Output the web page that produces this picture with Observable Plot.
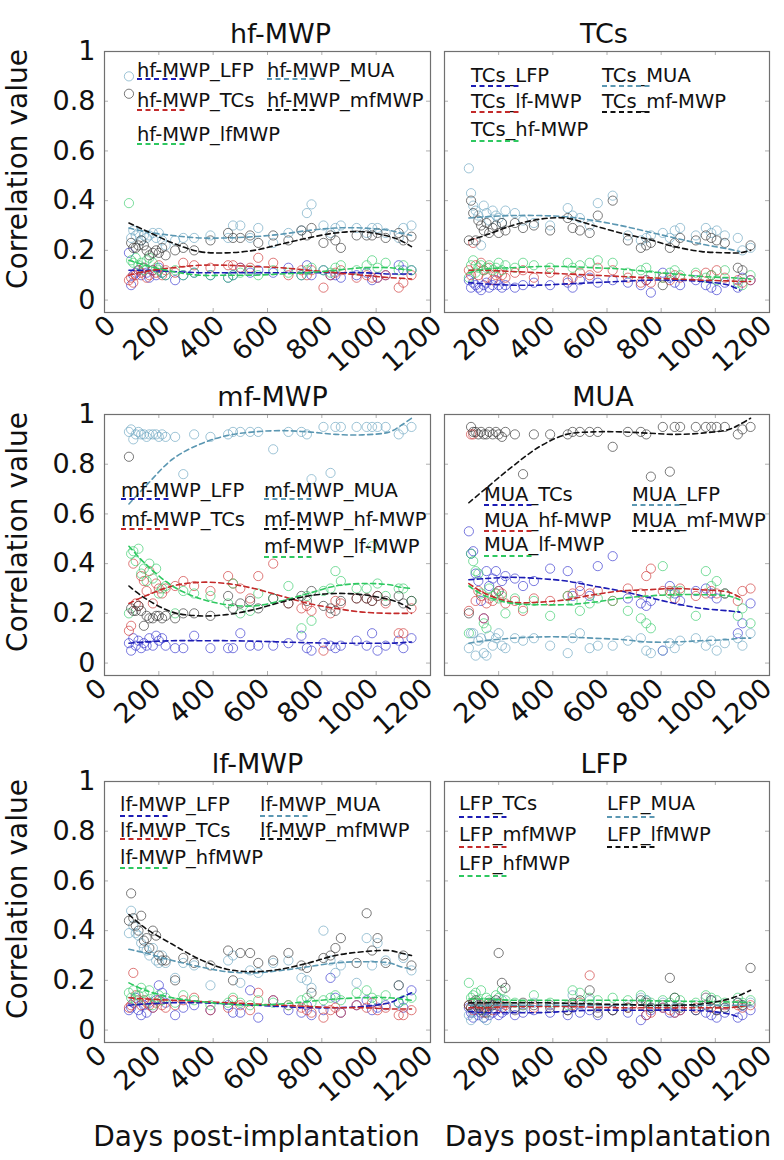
<!DOCTYPE html>
<html><head><meta charset="utf-8">
<script src="https://cdn.jsdelivr.net/npm/d3@7"></script>
<script src="https://cdn.jsdelivr.net/npm/@observablehq/plot@0.6"></script>
<style>
body{margin:0;background:#fff;}
#wrap{position:relative;width:784px;height:1160px;font-family:"DejaVu Sans",Verdana,sans-serif;overflow:hidden;}
#wrap svg{position:absolute;}
</style></head><body><div id="wrap"></div>
<script>
// ---------- data ----------
const days = [90,98,106,115,125,135,145,155,165,178,190,200,212,225,260,290,330,390,455,473,500,536,566,621,677,725,745,762,806,832,850,870,928,965,985,1005,1035,1083,1100,1130];
const fitDays = [90,150,250,350,450,550,650,750,850,950,1050,1090,1130];
const xTicks = [0,200,400,600,800,1000,1200];
const xTicksRight = [200,400,600,800,1000,1200];
const yTicks = [0,0.2,0.4,0.6,0.8,1];
const titles = ["hf-MWP","TCs","mf-MWP","MUA","lf-MWP","LFP"];
const yLabel = "Correlation value";
const xLabel = "Days post-implantation";

// legend labels, in colour order: blue, red, green, steel blue, black
const leg_hf  = ["hf-MWP_LFP","hf-MWP_TCs","hf-MWP_lfMWP","hf-MWP_MUA","hf-MWP_mfMWP"];
const leg_tc  = ["TCs_LFP","TCs_lf-MWP","TCs_hf-MWP","TCs_MUA","TCs_mf-MWP"];
const leg_mf  = ["mf-MWP_LFP","mf-MWP_TCs","mf-MWP_lf-MWP","mf-MWP_MUA","mf-MWP_hf-MWP"];
const leg_mua = ["MUA_TCs","MUA_hf-MWP","MUA_lf-MWP","MUA_LFP","MUA_mf-MWP"];
const leg_lf  = ["lf-MWP_LFP","lf-MWP_TCs","lf-MWP_hfMWP","lf-MWP_MUA","lf-MWP_mfMWP"];
const leg_lfp = ["LFP_TCs","LFP_mfMWP","LFP_hfMWP","LFP_MUA","LFP_lfMWP"];

// panel 1: hf-MWP
const hf_LFP = [0.19,0.06,0.10,0.11,0.12,0.10,0.13,0.11,0.09,0.12, 0.10,0.13,0.11,0.10,0.08,0.10,0.11,0.10,0.09,0.10, 0.13,0.11,0.12,0.11,0.13,0.10,0.14,0.10,0.12,0.10, 0.10,0.09,0.10,0.11,0.08,0.09,0.10,0.14,0.12,0.12];
const hf_TCs = [0.08,0.09,0.07,0.10,0.12,0.11,0.13,0.09,0.10,0.12, 0.11,0.14,0.10,0.12,0.11,0.15,0.14,0.13,0.14,0.14, 0.13,0.13,0.17,0.15,0.10,0.12,0.10,0.12,0.05,0.10, 0.11,0.12,0.09,0.10,0.09,0.09,0.10,0.05,0.07,0.10];
const hf_lf  = [0.39,0.16,0.15,0.17,0.14,0.15,0.12,0.16,0.17,0.15, 0.13,0.12,0.11,0.10,0.12,0.10,0.11,0.10,0.09,0.10, 0.11,0.12,0.10,0.12,0.11,0.10,0.12,0.13,0.12,0.11, 0.13,0.14,0.12,0.14,0.16,0.13,0.15,0.12,0.14,0.12];
const hf_MUA = [0.90,0.25,0.28,0.26,0.27,0.24,0.26,0.25,0.26,0.27, 0.25,0.27,0.24,0.22,0.24,0.25,0.25,0.26,0.25,0.30, 0.30,0.25,0.29,0.23,0.27,0.28,0.35,0.385,0.30,0.27, 0.29,0.30,0.29,0.27,0.29,0.29,0.27,0.25,0.29,0.30];
const hf_mf  = [0.83,0.23,0.21,0.21,0.22,0.24,0.22,0.20,0.18,0.19, 0.20,0.19,0.21,0.18,0.20,0.21,0.20,0.24,0.27,0.25, 0.25,0.26,0.23,0.26,0.24,0.28,0.26,0.29,0.23,0.26, 0.24,0.21,0.26,0.26,0.26,0.27,0.25,0.27,0.24,0.255];
// panel 2: TCs
const tc_LFP = [0.08,0.05,0.07,0.06,0.05,0.04,0.06,0.07,0.05,0.06, 0.08,0.06,0.05,0.06,0.05,0.06,0.07,0.06,0.07,0.05, 0.08,0.09,0.07,0.08,0.07,0.06,0.08,0.03,0.11,0.09, 0.07,0.06,0.08,0.06,0.05,0.04,0.07,0.05,0.09,0.08];
const tc_lf  = [0.12,0.10,0.23,0.14,0.10,0.15,0.12,0.09,0.13,0.08, 0.10,0.11,0.10,0.09,0.11,0.12,0.09,0.11,0.08,0.09, 0.11,0.10,0.13,0.12,0.09,0.07,0.08,0.07,0.09,0.08, 0.10,0.09,0.10,0.11,0.10,0.12,0.09,0.08,0.07,0.08];
const tc_hf  = [0.09,0.14,0.16,0.11,0.13,0.14,0.12,0.13,0.14,0.12, 0.13,0.15,0.12,0.14,0.13,0.15,0.14,0.13,0.15,0.13, 0.14,0.15,0.16,0.15,0.11,0.12,0.13,0.10,0.09,0.11, 0.12,0.10,0.11,0.09,0.10,0.08,0.12,0.07,0.06,0.10];
const tc_MUA = [0.53,0.43,0.38,0.36,0.34,0.22,0.38,0.35,0.32,0.36, 0.34,0.33,0.31,0.36,0.35,0.32,0.31,0.30,0.37,0.34, 0.33,0.30,0.39,0.42,0.26,0.24,0.25,0.26,0.27,0.25, 0.28,0.29,0.26,0.29,0.27,0.28,0.26,0.25,0.20,0.21];
const tc_mf  = [0.24,0.40,0.35,0.24,0.32,0.30,0.28,0.31,0.27,0.29, 0.30,0.27,0.31,0.28,0.31,0.29,0.30,0.28,0.33,0.29, 0.28,0.27,0.34,0.40,0.24,0.21,0.22,0.23,0.06,0.21, 0.23,0.25,0.24,0.26,0.25,0.24,0.23,0.13,0.12,0.22];
// panel 3: mf-MWP
const mf_LFP = [0.08,0.05,0.10,0.07,0.09,0.06,0.08,0.07,0.10,0.07, 0.11,0.09,0.10,0.07,0.06,0.06,0.11,0.06,0.06,0.06, 0.12,0.07,0.07,0.07,0.08,0.11,0.06,0.05,0.08,0.07, 0.06,0.07,0.09,0.07,0.12,0.05,0.07,0.09,0.06,0.10];
const mf_TCs = [0.13,0.15,0.40,0.24,0.23,0.35,0.33,0.29,0.37,0.24, 0.32,0.30,0.28,0.30,0.31,0.33,0.31,0.29,0.35,0.32, 0.30,0.26,0.35,0.40,0.24,0.22,0.23,0.21,0.05,0.20, 0.25,0.24,0.26,0.26,0.25,0.27,0.24,0.12,0.12,0.22];
const mf_lf  = [0.20,0.44,0.45,0.41,0.46,0.36,0.38,0.33,0.40,0.34, 0.38,0.28,0.30,0.31,0.20,0.29,0.28,0.27,0.24,0.32, 0.20,0.21,0.28,0.26,0.31,0.14,0.27,0.17,0.29,0.30, 0.37,0.33,0.30,0.30,0.47,0.32,0.27,0.30,0.30,0.25];
const mf_MUA = [0.93,0.94,0.90,0.92,0.93,0.92,0.92,0.91,0.92,0.92, 0.92,0.91,0.92,0.91,0.91,0.76,0.92,0.91,0.92,0.93, 0.93,0.93,0.93,0.86,0.93,0.93,0.92,0.74,0.95,0.765, 0.95,0.95,0.95,0.95,0.95,0.95,0.95,0.92,0.94,0.95];
const mf_hf  = [0.83,0.22,0.21,0.21,0.23,0.21,0.15,0.19,0.18,0.18, 0.19,0.19,0.18,0.19,0.18,0.20,0.20,0.19,0.27,0.22, 0.24,0.25,0.22,0.26,0.24,0.27,0.25,0.29,0.23,0.22, 0.21,0.25,0.26,0.26,0.25,0.27,0.25,0.27,0.24,0.25];
// panel 4: MUA
const mua_TCs = [0.53,0.44,0.45,0.36,0.33,0.25,0.18,0.37,0.31,0.34, 0.37,0.29,0.33,0.35,0.34,0.31,0.33,0.38,0.37,0.27, 0.31,0.27,0.39,0.43,0.26,0.24,0.23,0.25,0.05,0.31, 0.28,0.25,0.29,0.30,0.28,0.26,0.28,0.12,0.16,0.24];
const mua_hf  = [0.21,0.92,0.92,0.25,0.29,0.27,0.18,0.24,0.26,0.25, 0.28,0.29,0.28,0.24,0.25,0.21,0.26,0.25,0.27,0.28, 0.29,0.28,0.29,0.25,0.30,0.28,0.35,0.38,0.29,0.29, 0.26,0.30,0.27,0.28,0.29,0.28,0.28,0.25,0.29,0.30];
const mua_lf  = [0.12,0.44,0.41,0.37,0.36,0.28,0.16,0.14,0.30,0.27, 0.28,0.26,0.27,0.20,0.26,0.22,0.25,0.19,0.27,0.25, 0.21,0.24,0.26,0.25,0.21,0.18,0.16,0.14,0.39,0.28, 0.29,0.29,0.19,0.37,0.31,0.33,0.28,0.19,0.22,0.16];
const mua_LFP = [0.06,0.12,0.12,0.03,0.09,0.10,0.04,0.03,0.11,0.07, 0.10,0.12,0.07,0.06,0.10,0.09,0.10,0.07,0.04,0.10, 0.12,0.06,0.07,0.07,0.09,0.10,0.05,0.04,0.05,0.08, 0.06,0.09,0.10,0.07,0.09,0.05,0.08,0.10,0.07,0.12];
const mua_mf  = [0.20,0.95,0.93,0.93,0.92,0.93,0.92,0.92,0.93,0.92, 0.93,0.92,0.91,0.93,0.92,0.76,0.92,0.92,0.92,0.93, 0.93,0.93,0.93,0.87,0.93,0.93,0.92,0.75,0.95,0.77, 0.95,0.95,0.95,0.95,0.95,0.95,0.95,0.92,0.94,0.95];
// panel 5: lf-MWP
const lf_LFP = [0.08,0.09,0.11,0.13,0.08,0.06,0.10,0.07,0.11,0.09, 0.12,0.18,0.15,0.11,0.06,0.09,0.10,0.08,0.10,0.07, 0.07,0.16,0.05,0.12,0.08,0.07,0.10,0.06,0.08,0.21, 0.13,0.07,0.10,0.12,0.08,0.09,0.10,0.11,0.09,0.16];
const lf_TCs = [0.09,0.10,0.23,0.14,0.12,0.10,0.12,0.11,0.10,0.09, 0.11,0.12,0.10,0.09,0.10,0.12,0.13,0.08,0.09,0.12, 0.10,0.08,0.15,0.12,0.10,0.09,0.08,0.07,0.05,0.08, 0.09,0.07,0.10,0.09,0.11,0.08,0.09,0.06,0.06,0.08];
const lf_hf  = [0.15,0.13,0.16,0.12,0.14,0.17,0.15,0.12,0.16,0.10, 0.13,0.14,0.12,0.13,0.11,0.14,0.12,0.10,0.11,0.13, 0.11,0.10,0.12,0.11,0.10,0.12,0.13,0.11,0.12,0.13, 0.14,0.12,0.15,0.16,0.13,0.12,0.14,0.11,0.12,0.13];
const lf_MUA = [0.39,0.48,0.42,0.39,0.38,0.35,0.33,0.32,0.30,0.33, 0.28,0.27,0.30,0.27,0.21,0.27,0.26,0.18,0.28,0.30, 0.19,0.24,0.23,0.27,0.28,0.21,0.20,0.17,0.40,0.28, 0.23,0.26,0.19,0.37,0.26,0.35,0.28,0.18,0.29,0.24];
const lf_mf  = [0.44,0.55,0.45,0.42,0.40,0.46,0.36,0.37,0.33,0.40, 0.38,0.30,0.28,0.28,0.20,0.29,0.27,0.26,0.32,0.20, 0.31,0.31,0.27,0.28,0.31,0.26,0.25,0.15,0.29,0.30, 0.33,0.37,0.27,0.47,0.32,0.37,0.27,0.18,0.30,0.26];
// panel 6: LFP
const lfp_TCs = [0.09,0.07,0.05,0.08,0.06,0.07,0.05,0.08,0.06,0.07, 0.08,0.06,0.07,0.08,0.06,0.07,0.08,0.07,0.06,0.09, 0.07,0.08,0.06,0.08,0.07,0.04,0.06,0.08,0.09,0.07, 0.07,0.08,0.08,0.07,0.06,0.05,0.07,0.05,0.06,0.08];
const lfp_mf  = [0.10,0.09,0.08,0.11,0.09,0.10,0.07,0.09,0.10,0.08, 0.10,0.11,0.09,0.10,0.08,0.10,0.09,0.10,0.08,0.10, 0.11,0.22,0.09,0.08,0.09,0.10,0.06,0.07,0.09,0.08, 0.07,0.08,0.09,0.13,0.09,0.08,0.10,0.10,0.09,0.10];
const lfp_hf  = [0.19,0.13,0.14,0.15,0.12,0.16,0.11,0.13,0.12,0.11, 0.14,0.13,0.16,0.12,0.11,0.10,0.14,0.11,0.10,0.16, 0.15,0.13,0.12,0.13,0.12,0.14,0.12,0.11,0.12,0.11, 0.13,0.12,0.11,0.14,0.13,0.12,0.11,0.13,0.11,0.12];
const lfp_MUA = [0.06,0.04,0.07,0.09,0.10,0.08,0.05,0.04,0.09,0.10, 0.11,0.10,0.12,0.09,0.08,0.09,0.11,0.10,0.08,0.14, 0.10,0.12,0.09,0.08,0.10,0.13,0.12,0.09,0.11,0.10, 0.09,0.10,0.10,0.13,0.12,0.08,0.09,0.11,0.10,0.11];
const lfp_lf  = [0.10,0.09,0.11,0.12,0.10,0.08,0.09,0.07,0.11,0.10, 0.12,0.31,0.19,0.17,0.09,0.11,0.10,0.09,0.08,0.11, 0.12,0.16,0.07,0.08,0.09,0.12,0.11,0.09,0.10,0.21, 0.13,0.09,0.08,0.10,0.12,0.08,0.09,0.11,0.10,0.25];

// fitted curves, read at fitDays
const f_hf_LFP = [0.12,0.12,0.115,0.11,0.11,0.11,0.11,0.11,0.11,0.11,0.105,0.105,0.105];
const f_hf_TCs = [0.10,0.115,0.13,0.14,0.14,0.135,0.13,0.12,0.11,0.10,0.09,0.088,0.085];
const f_hf_lf  = [0.16,0.14,0.115,0.10,0.10,0.10,0.105,0.11,0.12,0.13,0.13,0.125,0.12];
const f_hf_MUA = [0.29,0.275,0.26,0.25,0.25,0.255,0.265,0.28,0.29,0.29,0.28,0.27,0.26];
const f_hf_mf  = [0.31,0.28,0.23,0.195,0.19,0.20,0.225,0.25,0.27,0.275,0.255,0.24,0.215];
const f_tc_LFP = [0.07,0.065,0.06,0.06,0.065,0.07,0.075,0.08,0.08,0.075,0.06,0.04,null];
const f_tc_lf  = [0.12,0.12,0.115,0.11,0.105,0.10,0.095,0.09,0.085,0.08,0.077,0.075,0.075];
const f_tc_hf  = [0.11,0.125,0.13,0.135,0.135,0.13,0.125,0.115,0.105,0.095,0.09,0.088,0.085];
const f_tc_MUA = [0.33,0.335,0.34,0.34,0.335,0.32,0.30,0.275,0.25,0.225,0.205,0.195,null];
const f_tc_mf  = [0.24,0.26,0.30,0.325,0.33,0.30,0.27,0.245,0.215,0.195,0.19,0.19,0.20];
const f_mf_LFP = [0.08,0.085,0.09,0.09,0.09,0.088,0.085,0.082,0.08,0.08,0.08,0.082,0.085];
const f_mf_TCs = [0.24,0.27,0.31,0.325,0.32,0.30,0.27,0.24,0.22,0.205,0.20,0.20,0.20];
const f_mf_lf  = [0.47,0.40,0.31,0.26,0.235,0.23,0.25,0.28,0.31,0.32,0.315,0.305,0.30];
const f_mf_MUA = [0.64,0.71,0.82,0.88,0.915,0.93,0.935,0.93,0.92,0.918,0.93,0.955,0.985];
const f_mf_hf  = [0.31,0.26,0.205,0.19,0.195,0.215,0.245,0.27,0.28,0.275,0.255,0.24,0.215];
const f_mua_TCs = [0.335,0.34,0.345,0.34,0.33,0.31,0.29,0.265,0.24,0.22,0.21,0.205,null];
const f_mua_hf  = [0.32,0.28,0.245,0.245,0.255,0.275,0.29,0.295,0.30,0.295,0.285,0.265,null];
const f_mua_lf  = [0.31,0.27,0.24,0.235,0.235,0.245,0.26,0.27,0.275,0.275,0.27,0.255,null];
const f_mua_LFP = [0.08,0.09,0.10,0.105,0.105,0.10,0.095,0.085,0.085,0.09,0.095,0.10,0.10];
const f_mua_mf  = [0.645,0.70,0.79,0.87,0.92,0.93,0.93,0.925,0.92,0.925,0.94,0.96,0.985];
const f_lf_LFP = [0.10,0.105,0.11,0.11,0.105,0.10,0.095,0.09,0.09,0.095,0.11,0.13,0.15];
const f_lf_TCs = [0.13,0.125,0.12,0.115,0.11,0.105,0.10,0.095,0.09,0.09,0.085,0.085,0.085];
const f_lf_hf  = [0.19,0.16,0.13,0.115,0.105,0.10,0.105,0.115,0.125,0.13,0.13,0.125,0.12];
const f_lf_MUA = [0.325,0.31,0.28,0.255,0.235,0.23,0.24,0.255,0.27,0.275,0.27,0.255,0.245];
const f_lf_mf  = [0.465,0.41,0.345,0.285,0.245,0.235,0.245,0.27,0.30,0.315,0.32,0.31,0.30];
const f_lfp_TCs = [0.075,0.07,0.07,0.07,0.075,0.08,0.08,0.08,0.08,0.078,0.065,0.05,null];
const f_lfp_mf  = [0.09,0.09,0.095,0.095,0.095,0.092,0.09,0.09,0.09,0.09,0.09,0.095,0.10];
const f_lfp_hf  = [0.125,0.125,0.12,0.12,0.12,0.12,0.12,0.118,0.116,0.115,0.113,0.112,0.11];
const f_lfp_MUA = [0.10,0.10,0.10,0.10,0.10,0.10,0.10,0.10,0.10,0.10,0.10,0.10,0.10];
const f_lfp_lf  = [0.11,0.11,0.11,0.11,0.108,0.105,0.103,0.10,0.10,0.105,0.125,0.14,0.16];

// ---------- styling ----------
const dotColors  = ["#3a3ad0","#d03a3a","#3ccc6e","#6fa8c2","#3a3a3a"];
const lineColors = ["#1c1cb4","#c42a2a","#2ec860","#5b97b2","#111111"];

const panels = [
  {title:titles[0], labels:leg_hf,  pts:[hf_LFP,hf_TCs,hf_lf,hf_MUA,hf_mf],       fits:[f_hf_LFP,f_hf_TCs,f_hf_lf,f_hf_MUA,f_hf_mf],       col:0,row:0,tdx:13,
   leg:[[33,19,28],[33,49,59],[33,83,93],[163,19,28],[163,49,59]]},
  {title:titles[1], labels:leg_tc,  pts:[tc_LFP,tc_lf,tc_hf,tc_MUA,tc_mf],        fits:[f_tc_LFP,f_tc_lf,f_tc_hf,f_tc_MUA,f_tc_mf],        col:1,row:0,tdx:-3,
   leg:[[27,24,35],[27,50,61],[27,78,90],[158,24,35],[158,50,61]]},
  {title:titles[2], labels:leg_mf,  pts:[mf_LFP,mf_TCs,mf_lf,mf_MUA,mf_hf],       fits:[f_mf_LFP,f_mf_TCs,f_mf_lf,f_mf_MUA,f_mf_hf],       col:0,row:1,tdx:5,
   leg:[[17,76,85],[17,105,115],[160,132,143],[160,76,85],[160,105,115]]},
  {title:titles[3], labels:leg_mua, pts:[mua_TCs,mua_hf,mua_lf,mua_LFP,mua_mf],   fits:[f_mua_TCs,f_mua_hf,f_mua_lf,f_mua_LFP,f_mua_mf],   col:1,row:1,tdx:-4,
   leg:[[40,80,91],[40,106,117],[40,130,142],[188,80,91],[188,106,117]]},
  {title:titles[4], labels:leg_lf,  pts:[lf_LFP,lf_TCs,lf_hf,lf_MUA,lf_mf],       fits:[f_lf_LFP,f_lf_TCs,f_lf_hf,f_lf_MUA,f_lf_mf],       col:0,row:2,tdx:-10,
   leg:[[16,23,35],[16,49,58],[16,76,87],[156,23,35],[156,49,58]]},
  {title:titles[5], labels:leg_lfp, pts:[lfp_TCs,lfp_mf,lfp_hf,lfp_MUA,lfp_lf],   fits:[f_lfp_TCs,f_lfp_mf,f_lfp_hf,f_lfp_MUA,f_lfp_lf],   col:1,row:2,tdx:-3,
   leg:[[15,22,36],[15,53,66],[15,82,95],[163,22,36],[163,53,66]]}
];

const colGeom = [{left:0,width:440,ml:104,mr:10},{left:434,width:350,ml:10,mr:15}];
const rowTop = [51,414,781];
const FH = 261, MT = 50;
const FONT = "DejaVu Sans, Verdana, sans-serif";
const wrap = document.getElementById("wrap");

for (const p of panels) {
  const g = colGeom[p.col];
  const mb = p.row === 2 ? 115 : 62;
  const H = MT + FH + mb;
  const FW = g.width - g.ml - g.mr;
  const marks = [];
  // inward ticks on all four sides
  marks.push(Plot.tickX(xTicks, {x:d=>d, insetTop:FH-4, stroke:"#b0b0b0"}));
  marks.push(Plot.tickX(xTicks, {x:d=>d, insetBottom:FH-4, stroke:"#b0b0b0"}));
  marks.push(Plot.tickY(yTicks, {y:d=>d, insetRight:FW-4, stroke:"#b0b0b0"}));
  marks.push(Plot.tickY(yTicks, {y:d=>d, insetLeft:FW-4, stroke:"#b0b0b0"}));
  // scatter
  p.pts.forEach((arr, k) => {
    const data = days.map((d,i)=>({day:d, v:arr[i]})).filter(o=>o.v!=null);
    marks.push(Plot.dot(data, {x:"day", y:"v", r:4.6, stroke:dotColors[k], strokeWidth:0.85, strokeOpacity:0.8, fill:"none"}));
  });
  // fitted dashed curves
  p.fits.forEach((arr, k) => {
    const data = fitDays.map((d,i)=>({day:d, v:arr[i]})).filter(o=>o.v!=null);
    marks.push(Plot.line(data, {x:"day", y:"v", stroke:lineColors[k], strokeWidth:1.6, strokeDasharray:"5,3.5", curve:"catmull-rom"}));
  });
  marks.push(Plot.frame({stroke:"#707070", strokeWidth:1.2}));
  // tick labels
  const xt = p.col === 0 ? xTicks : xTicksRight;
  marks.push(Plot.text(xt, {x:d=>d, text:d=>String(d), frameAnchor:"bottom", rotate:-42, textAnchor:"end", lineAnchor:"bottom",
    dx:p.row===0 && p.col===0 ? 13 : 4, dy:15, fontSize:27, fill:"#111"}));
  if (p.col === 0) {
    marks.push(Plot.text(yTicks, {y:d=>d, text:d=>String(d), frameAnchor:"left", textAnchor:"end", lineAnchor:"middle", dx:-9, fontSize:27, fill:"#111"}));
    marks.push(Plot.text([yLabel], {text:d=>d, frameAnchor:"left", textAnchor:"middle", lineAnchor:"middle", rotate:-90, dx:-86, dy:-13, fontSize:28, fill:"#111"}));
  }
  marks.push(Plot.text([p.title], {text:d=>d, frameAnchor:"top", textAnchor:"middle", lineAnchor:"middle", dx:p.tdx, dy:-17, fontSize:27, fill:"#111"}));
  if (p.row === 2) {
    marks.push(Plot.text([xLabel], {text:d=>d, frameAnchor:"bottom", textAnchor:"middle", lineAnchor:"middle", dx:p.col===0 ? -11 : 1, dy:95, fontSize:28, fill:"#111"}));
  }
  const svg = Plot.plot({
    width:g.width, height:H, marginLeft:g.ml, marginRight:g.mr, marginTop:MT, marginBottom:mb,
    x:{domain:[0,1200], axis:null}, y:{domain:[-0.05,1], axis:null},
    style:{fontFamily:FONT, background:"none", overflow:"visible"},
    marks
  });
  svg.style.left = g.left + "px";
  svg.style.top = (rowTop[p.row] - MT) + "px";
  // in-panel legend (label text with dashed swatch under it)
  const lg = d3.select(svg).append("g").attr("font-family", FONT).attr("font-size", 19.5).attr("text-anchor","start");
  p.labels.forEach((lab, k) => {
    const [dx, dyT, dyL] = p.leg[k];
    lg.append("text").attr("x", g.ml + dx).attr("y", MT + dyT).attr("dominant-baseline","central")
      .attr("text-anchor","start").attr("fill","#111").text(lab);
    lg.append("line").attr("x1", g.ml + dx).attr("x2", g.ml + dx + 50)
      .attr("y1", MT + dyL).attr("y2", MT + dyL)
      .attr("stroke", lineColors[k]).attr("stroke-width", 1.8).attr("stroke-dasharray","5,3.5");
  });
  wrap.appendChild(svg);
}
</script>
</body></html>
